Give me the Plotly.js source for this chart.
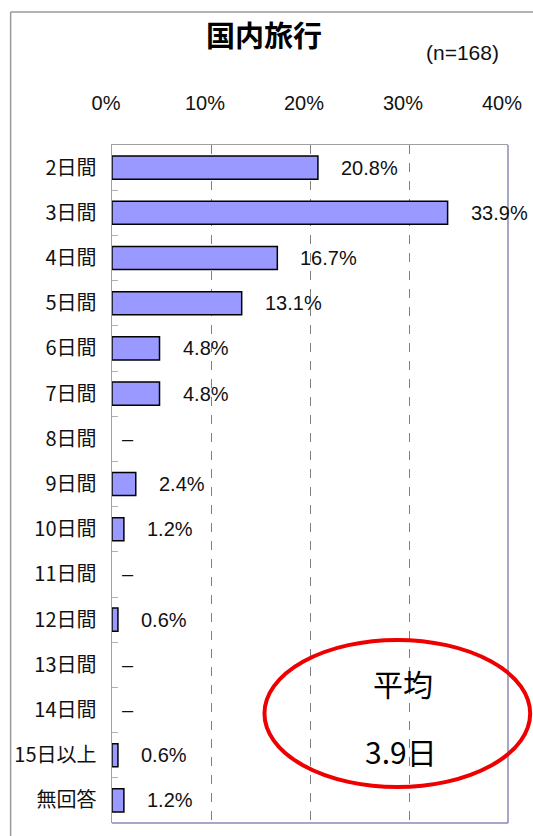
<!DOCTYPE html>
<html>
<head>
<meta charset="utf-8">
<script src="https://cdn.plot.ly/plotly-3.0.1.min.js"></script>
<style>html,body{margin:0;padding:0;background:#fff;}#chart{width:533px;height:836px;}</style>
</head>
<body>
<div id="chart"></div>
<script>
const categories = ["2日間","3日間","4日間","5日間","6日間","7日間","8日間","9日間","10日間","11日間","12日間","13日間","14日間","15日以上","無回答"];
const values = [20.8, 33.9, 16.7, 13.1, 4.8, 4.8, 0, 2.4, 1.2, 0, 0.6, 0, 0, 0.6, 1.2];
const valueLabels = ["20.8%","33.9%","16.7%","13.1%","4.8%","4.8%","–","2.4%","1.2%","–","0.6%","–","–","0.6%","1.2%"];
const xTickVals = [0, 10, 20, 30, 40];
const xTickText = ["0%","10%","20%","30%","40%"];
const chartTitle = "国内旅行";
const sampleNote = "(n=168)";
const averageLabel = "平均";
const averageValue = "3.9日";

const numFont = "Liberation Sans, Arial, Noto Sans CJK JP, sans-serif";
const cjkFont = "Noto Sans CJK JP, sans-serif";

const trace = {
  type: "bar",
  orientation: "h",
  x: values,
  y: categories,
  marker: {color: "#9999ff", line: {color: "#000000", width: values.map(v => v > 0 ? 1.5 : 0)}},
  hoverinfo: "skip"
};

const annotations = categories.map((c, i) => ({
  x: values[i], y: c, xref: "x", yref: "y",
  text: valueLabels[i], showarrow: false,
  xanchor: "left", yanchor: "middle",
  xshift: values[i] > 0 ? 21 : 8,
  font: {family: numFont, size: 20, color: "#111"}
}));

annotations.push(
  {x: 0.385, y: 1.163, xref: "paper", yref: "paper", text: "<b>" + chartTitle + "</b>", showarrow: false,
   xanchor: "center", yanchor: "middle", font: {family: cjkFont, size: 29, color: "#000"}},
  {x: 0.886, y: 1.137, xref: "paper", yref: "paper", text: sampleNote, showarrow: false,
   xanchor: "center", yanchor: "middle", font: {family: numFont, size: 21, color: "#111"}},
  {x: 0.734, y: 0.2065, xref: "paper", yref: "paper", text: averageLabel, showarrow: false,
   xanchor: "center", yanchor: "middle", font: {family: cjkFont, size: 30, color: "#000"}},
  {x: 0.729, y: 0.106, xref: "paper", yref: "paper", text: averageValue, showarrow: false,
   xanchor: "center", yanchor: "middle", font: {family: cjkFont, size: 30, color: "#000"}}
);

const layout = {
  width: 533, height: 836,
  margin: {l: 112, r: 25, t: 145, b: 13, pad: 0},
  paper_bgcolor: "#ffffff", plot_bgcolor: "#ffffff",
  showlegend: false,
  bargap: 0.49,
  xaxis: {
    side: "top", range: [0, 40], tickvals: xTickVals, ticktext: xTickText,
    showgrid: true, gridcolor: "#808080", griddash: "dash", gridwidth: 1,
    zeroline: false, showline: true, linecolor: "#a0a0a0", linewidth: 1.5,
    ticks: "", ticklabelstandoff: 26, ticklabelshift: -6,
    tickfont: {family: numFont, size: 20, color: "#111"}, fixedrange: true
  },
  yaxis: {
    type: "category", autorange: "reversed",
    showline: true, linecolor: "#a0a0a0", linewidth: 1.5,
    ticks: "inside", tickson: "boundaries", ticklen: 6, tickcolor: "#b0b0b0", tickwidth: 1,
    ticklabelstandoff: 10,
    tickfont: {family: cjkFont, size: 20, color: "#111"},
    showgrid: false, zeroline: false, fixedrange: true
  },
  shapes: [
    {type: "line", xref: "paper", yref: "paper", x0: -0.256, x1: -0.256, y0: 1.196, y1: -0.03, line: {color: "#9a9a9a", width: 1.5}},
    {type: "line", xref: "paper", yref: "paper", x0: -0.256, x1: 1.1, y0: 1.196, y1: 1.196, line: {color: "#9a9a9a", width: 1.5}},
    {type: "line", xref: "paper", yref: "paper", x0: 1, x1: 1, y0: 0, y1: 1, line: {color: "#8a8ab8", width: 1.5}},
    {type: "line", xref: "paper", yref: "paper", x0: 0, x1: 1, y0: 0, y1: 0, line: {color: "#8a8ab8", width: 1.5}},
    {type: "circle", xref: "paper", yref: "paper", x0: 0.385, x1: 1.056, y0: 0.053, y1: 0.27,
     line: {color: "#ee0000", width: 4}, fillcolor: "rgba(0,0,0,0)"}
  ],
  annotations: annotations
};

Plotly.newPlot("chart", [trace], layout, {staticPlot: true, displayModeBar: false});
</script>
</body>
</html>
